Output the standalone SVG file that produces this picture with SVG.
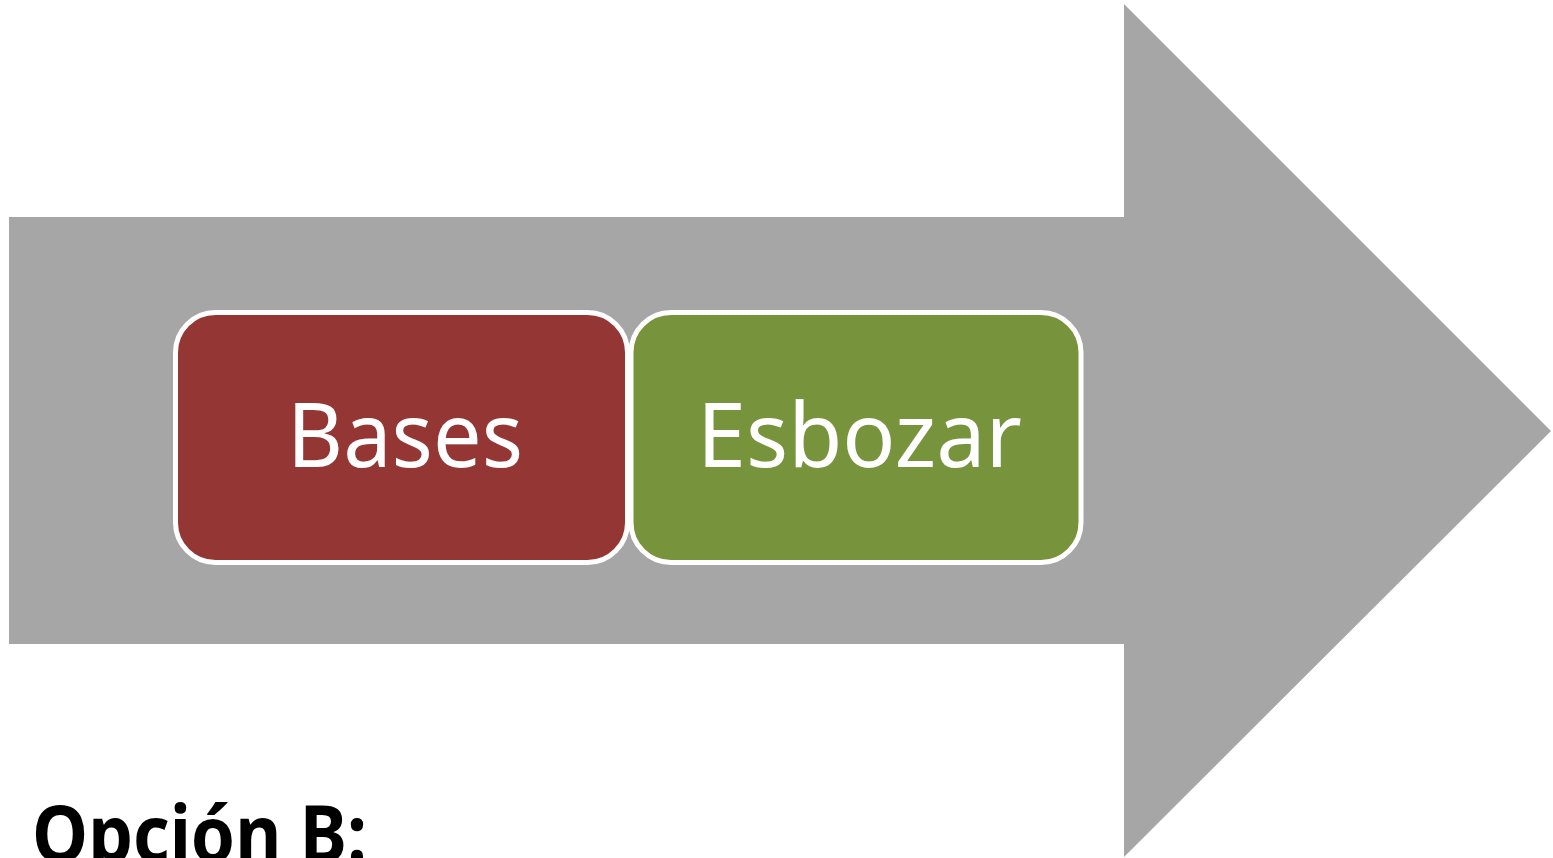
<svg xmlns="http://www.w3.org/2000/svg" width="1553" height="858" viewBox="0 0 1553 858">
  <style>
    .box { stroke: #FFFFFF; stroke-width: 5; }
    .label { font-family: "Noto Sans", "Open Sans", sans-serif; font-size: 90px; fill: #FFFFFF; text-anchor: middle; }
    .title { font-family: "Noto Sans", "Open Sans", sans-serif; font-size: 78px; font-weight: bold; fill: #000000; }
  </style>
  <rect x="0" y="0" width="1553" height="858" fill="#FFFFFF"/>
  <g id="arrow">
    <polygon points="9,217 1124,217 1124,4 1551,431 1124,857 1124,644 9,644" fill="#A6A6A6"/>
  </g>
  <g id="connectors"></g>
  <g id="node-bases">
    <rect class="box" x="175.5" y="312.5" width="452" height="250" rx="40" ry="40" fill="#943634"/>
    <text class="label" x="405" y="467" textLength="236" lengthAdjust="spacingAndGlyphs">Bases</text>
  </g>
  <g id="node-esbozar">
    <rect class="box" x="631" y="312.5" width="450" height="250" rx="40" ry="40" fill="#77933C"/>
    <text class="label" x="859.5" y="467" textLength="325" lengthAdjust="spacingAndGlyphs">Esbozar</text>
  </g>
  <g id="title">
    <text class="title" x="32" y="862" textLength="335" lengthAdjust="spacingAndGlyphs">Opción B:</text>
  </g>
</svg>
